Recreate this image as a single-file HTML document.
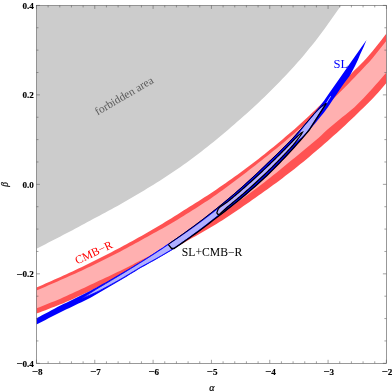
<!DOCTYPE html>
<html><head><meta charset="utf-8"><title>plot</title>
<style>
html,body{margin:0;padding:0;background:#fff;}
svg{display:block;will-change:transform;}
text{font-family:"Liberation Serif",serif;}
.tl{font-size:9.1px;font-weight:bold;fill:#000;stroke:#000;stroke-width:0.14px;}
</style></head><body>
<svg width="392" height="392" viewBox="0 0 392 392">
<rect width="392" height="392" fill="#fff"/>
<defs><clipPath id="c"><rect x="36.45" y="5.4" width="349.95" height="357.90000000000003"/></clipPath></defs>
<g clip-path="url(#c)">
<path d="M36.45,5.40 L36.45,248.72 L39.45,247.19 L42.45,245.67 L45.45,244.13 L48.45,242.60 L51.45,241.06 L54.45,239.52 L57.45,237.97 L60.45,236.41 L63.45,234.85 L66.45,233.28 L69.45,231.71 L72.45,230.13 L75.45,228.53 L78.45,226.94 L81.45,225.33 L84.45,223.71 L87.45,222.08 L90.45,220.44 L93.45,218.83 L96.45,217.26 L99.45,215.67 L102.45,214.07 L105.45,212.46 L108.45,210.84 L111.45,209.20 L114.45,207.55 L117.45,205.88 L120.45,204.20 L123.45,202.50 L126.45,200.79 L129.45,199.06 L132.45,197.31 L135.45,195.55 L138.45,193.77 L141.45,191.98 L144.45,190.18 L147.45,188.37 L150.45,186.53 L153.45,184.67 L156.45,182.80 L159.45,180.90 L162.45,178.98 L165.45,177.04 L168.45,175.08 L171.45,173.10 L174.45,171.09 L177.45,169.06 L180.45,166.99 L183.45,164.85 L186.45,162.68 L189.45,160.49 L192.45,158.27 L195.45,156.02 L198.45,153.75 L201.45,151.44 L204.45,149.12 L207.45,146.76 L210.45,144.37 L213.45,141.96 L216.45,139.51 L219.45,137.04 L222.45,134.54 L225.45,132.00 L228.45,129.43 L231.45,126.83 L234.45,124.20 L237.45,121.59 L240.45,118.99 L243.45,116.35 L246.45,113.69 L249.45,110.99 L252.45,108.25 L255.45,105.48 L258.45,102.67 L261.45,99.83 L264.45,96.94 L267.45,94.03 L270.45,91.07 L273.45,88.06 L276.45,85.01 L279.45,81.93 L282.45,78.80 L285.45,75.63 L288.45,72.43 L291.45,69.18 L294.45,65.89 L297.45,62.56 L300.45,59.19 L303.45,55.68 L306.45,52.05 L309.45,48.37 L312.45,44.65 L315.45,40.88 L318.45,37.07 L321.45,33.11 L324.45,28.99 L327.45,24.82 L330.45,20.61 L333.45,16.35 L336.45,12.04 L339.45,7.69 L341.00,5.42 L341.00,5.40 Z" fill="#cccccc"/>
<path d="M36.45,287.47 L39.45,286.18 L42.45,284.88 L45.45,283.58 L48.45,282.26 L51.45,280.94 L54.45,279.61 L57.45,278.26 L60.45,276.91 L63.45,275.54 L66.45,274.17 L69.45,272.78 L72.45,271.39 L75.45,269.98 L78.45,268.56 L81.45,267.13 L84.45,265.69 L87.45,264.24 L90.45,262.77 L93.45,261.29 L96.45,259.80 L99.45,258.30 L102.45,256.79 L105.45,255.26 L108.45,253.72 L111.45,252.17 L114.45,250.61 L117.45,249.03 L120.45,247.44 L123.45,245.83 L126.45,244.21 L129.45,242.58 L132.45,240.93 L135.45,239.27 L138.45,237.59 L141.45,235.90 L144.45,234.19 L147.45,232.47 L150.45,230.74 L153.45,228.99 L156.45,227.22 L159.45,225.44 L162.45,223.64 L165.45,221.82 L168.45,219.99 L171.45,218.15 L174.45,216.28 L177.45,214.40 L180.45,212.51 L183.45,210.59 L186.45,208.66 L189.45,206.77 L192.45,204.92 L195.45,203.05 L198.45,201.16 L201.45,199.25 L204.45,197.33 L207.45,195.38 L210.45,193.42 L213.45,191.43 L216.45,189.40 L219.45,187.36 L222.45,185.30 L225.45,183.22 L228.45,181.12 L231.45,178.99 L234.45,176.85 L237.45,174.69 L240.45,172.51 L243.45,170.31 L246.45,168.09 L249.45,165.85 L252.45,163.56 L255.45,161.24 L258.45,158.90 L261.45,156.54 L264.45,154.16 L267.45,151.75 L270.45,149.33 L273.45,146.88 L276.45,144.41 L279.45,141.92 L282.45,139.41 L285.45,136.87 L288.45,134.31 L291.45,131.73 L294.45,129.13 L297.45,126.44 L300.45,123.71 L303.45,120.96 L306.45,118.19 L309.45,115.39 L312.45,112.57 L315.45,109.73 L318.45,106.86 L321.45,103.96 L324.45,101.04 L327.45,98.10 L330.45,95.13 L333.45,92.13 L336.45,89.11 L339.45,86.07 L342.45,82.96 L345.45,79.82 L348.45,76.65 L351.45,73.46 L354.45,70.29 L357.45,67.38 L360.45,64.44 L363.45,61.47 L366.45,58.24 L369.45,54.70 L372.45,51.15 L375.45,47.53 L378.45,43.74 L381.45,39.92 L384.45,36.07 L386.40,33.56 L386.40,83.02 L384.45,85.33 L381.45,88.85 L378.45,92.34 L375.45,95.62 L372.45,98.68 L369.45,101.71 L366.45,104.71 L363.45,107.68 L360.45,110.62 L357.45,113.53 L354.45,116.42 L351.45,119.27 L348.45,122.10 L345.45,124.90 L342.45,127.67 L339.45,130.41 L336.45,133.14 L333.45,135.84 L330.45,138.52 L327.45,141.16 L324.45,143.78 L321.45,146.38 L318.45,148.97 L315.45,151.56 L312.45,154.12 L309.45,156.65 L306.45,159.16 L303.45,161.65 L300.45,164.11 L297.45,166.51 L294.45,168.89 L291.45,171.24 L288.45,173.56 L285.45,175.87 L282.45,178.14 L279.45,180.40 L276.45,182.63 L273.45,184.84 L270.45,187.03 L267.45,189.20 L264.45,191.34 L261.45,193.46 L258.45,195.56 L255.45,197.64 L252.45,199.75 L249.45,201.88 L246.45,203.99 L243.45,206.08 L240.45,208.15 L237.45,210.20 L234.45,212.23 L231.45,214.24 L228.45,216.23 L225.45,218.20 L222.45,220.15 L219.45,222.07 L216.45,223.89 L213.45,225.69 L210.45,227.48 L207.45,229.25 L204.45,231.00 L201.45,232.73 L198.45,234.45 L195.45,236.15 L192.45,237.83 L189.45,239.59 L186.45,241.35 L183.45,243.09 L180.45,244.82 L177.45,246.53 L174.45,248.23 L171.45,249.92 L168.45,251.59 L165.45,253.24 L162.45,254.88 L159.45,256.51 L156.45,258.12 L153.45,259.72 L150.45,261.31 L147.45,262.88 L144.45,264.44 L141.45,265.99 L138.45,267.53 L135.45,269.05 L132.45,270.56 L129.45,272.06 L126.45,273.55 L123.45,275.01 L120.45,276.47 L117.45,277.91 L114.45,279.35 L111.45,280.77 L108.45,282.19 L105.45,283.59 L102.45,284.99 L99.45,286.39 L96.45,287.84 L93.45,289.27 L90.45,290.71 L87.45,292.13 L84.45,293.54 L81.45,294.95 L78.45,296.35 L75.45,297.74 L72.45,299.13 L69.45,300.50 L66.45,301.87 L63.45,303.20 L60.45,304.37 L57.45,305.54 L54.45,306.69 L51.45,307.84 L48.45,308.99 L45.45,310.13 L42.45,311.27 L39.45,312.40 L36.45,313.53 Z" fill="#ff5252"/>
<path d="M36.45,290.50 L39.45,289.23 L42.45,287.95 L45.45,286.66 L48.45,285.37 L51.45,284.06 L54.45,282.74 L57.45,281.41 L60.45,280.08 L63.45,278.76 L66.45,277.43 L69.45,276.09 L72.45,274.74 L75.45,273.38 L78.45,272.01 L81.45,270.63 L84.45,269.24 L87.45,267.83 L90.45,266.41 L93.45,264.99 L96.45,263.55 L99.45,262.10 L102.45,260.61 L105.45,259.10 L108.45,257.58 L111.45,256.05 L114.45,254.51 L117.45,252.95 L120.45,251.38 L123.45,249.80 L126.45,248.21 L129.45,246.60 L132.45,244.98 L135.45,243.34 L138.45,241.69 L141.45,240.03 L144.45,238.36 L147.45,236.67 L150.45,234.98 L153.45,233.36 L156.45,231.72 L159.45,230.07 L162.45,228.41 L165.45,226.73 L168.45,225.03 L171.45,223.25 L174.45,221.45 L177.45,219.64 L180.45,217.81 L183.45,215.97 L186.45,214.11 L189.45,212.23 L192.45,210.34 L195.45,208.44 L198.45,206.51 L201.45,204.57 L204.45,202.61 L207.45,200.64 L210.45,198.65 L213.45,196.59 L216.45,194.46 L219.45,192.31 L222.45,190.14 L225.45,187.96 L228.45,185.75 L231.45,183.53 L234.45,181.29 L237.45,179.04 L240.45,176.76 L243.45,174.47 L246.45,172.16 L249.45,169.83 L252.45,167.52 L255.45,165.19 L258.45,162.85 L261.45,160.49 L264.45,158.12 L267.45,155.72 L270.45,153.30 L273.45,150.86 L276.45,148.40 L279.45,145.92 L282.45,143.42 L285.45,140.90 L288.45,138.36 L291.45,135.80 L294.45,133.22 L297.45,130.62 L300.45,128.05 L303.45,125.47 L306.45,122.87 L309.45,120.25 L312.45,117.61 L315.45,114.94 L318.45,112.26 L321.45,109.55 L324.45,106.82 L327.45,104.07 L330.45,101.29 L333.45,98.49 L336.45,95.67 L339.45,92.83 L342.45,89.83 L345.45,86.78 L348.45,83.71 L351.45,80.61 L354.45,77.50 L357.45,74.35 L360.45,71.19 L363.45,68.02 L366.45,64.86 L369.45,61.68 L372.45,58.24 L375.45,54.53 L378.45,50.80 L381.45,47.05 L384.45,43.26 L386.40,40.79 L386.40,72.55 L384.45,74.80 L381.45,78.25 L378.45,81.67 L375.45,85.07 L372.45,88.44 L369.45,91.79 L366.45,95.02 L363.45,98.13 L360.45,101.21 L357.45,104.28 L354.45,107.31 L351.45,109.86 L348.45,112.29 L345.45,114.70 L342.45,117.09 L339.45,119.49 L336.45,122.03 L333.45,124.54 L330.45,127.03 L327.45,129.50 L324.45,132.21 L321.45,135.15 L318.45,137.90 L315.45,140.47 L312.45,143.02 L309.45,145.55 L306.45,148.06 L303.45,150.55 L300.45,153.01 L297.45,155.46 L294.45,157.88 L291.45,160.31 L288.45,162.82 L285.45,165.30 L282.45,167.77 L279.45,170.22 L276.45,172.64 L273.45,175.05 L270.45,177.43 L267.45,179.80 L264.45,182.15 L261.45,184.48 L258.45,186.79 L255.45,189.08 L252.45,191.33 L249.45,193.54 L246.45,195.73 L243.45,197.91 L240.45,200.07 L237.45,202.21 L234.45,204.33 L231.45,206.43 L228.45,208.48 L225.45,210.49 L222.45,212.47 L219.45,214.44 L216.45,216.40 L213.45,218.33 L210.45,220.25 L207.45,222.15 L204.45,224.04 L201.45,225.91 L198.45,227.76 L195.45,229.60 L192.45,231.42 L189.45,233.22 L186.45,235.01 L183.45,236.78 L180.45,238.54 L177.45,240.28 L174.45,242.01 L171.45,243.72 L168.45,245.42 L165.45,247.10 L162.45,248.76 L159.45,250.42 L156.45,252.05 L153.45,253.68 L150.45,255.29 L147.45,256.88 L144.45,258.46 L141.45,260.03 L138.45,261.58 L135.45,263.12 L132.45,264.65 L129.45,266.16 L126.45,267.67 L123.45,269.15 L120.45,270.63 L117.45,272.09 L114.45,273.54 L111.45,274.98 L108.45,276.40 L105.45,277.82 L102.45,279.22 L99.45,280.61 L96.45,281.99 L93.45,283.40 L90.45,284.84 L87.45,286.27 L84.45,287.68 L81.45,289.09 L78.45,290.49 L75.45,291.87 L72.45,293.25 L69.45,294.61 L66.45,295.97 L63.45,297.31 L60.45,298.65 L57.45,299.90 L54.45,301.13 L51.45,302.35 L48.45,303.56 L45.45,304.76 L42.45,305.95 L39.45,307.13 L36.45,308.30 Z" fill="#ffb0b0"/>
<path d="M36.45,318.22 L39.45,316.65 L42.45,315.07 L45.45,313.48 L48.45,311.90 L51.45,310.31 L54.45,308.71 L57.45,307.12 L60.45,305.54 L63.45,304.10 L66.45,302.65 L69.45,301.20 L72.45,299.74 L75.45,298.27 L78.45,296.79 L81.45,295.31 L84.45,293.82 L87.45,292.32 L90.45,290.71 L93.45,289.07 L96.45,287.42 L99.45,285.76 L102.45,284.09 L105.45,282.40 L108.45,280.71 L111.45,279.00 L114.45,277.28 L117.45,275.55 L120.45,273.80 L123.45,272.04 L126.45,270.26 L129.45,268.47 L132.45,266.67 L135.45,264.84 L138.45,263.01 L141.45,261.15 L144.45,259.27 L147.45,257.38 L150.45,255.47 L153.45,253.54 L156.45,251.59 L159.45,249.62 L162.45,247.63 L165.45,245.62 L168.45,243.59 L171.45,241.54 L174.45,239.48 L177.45,237.40 L180.45,235.30 L183.45,233.18 L186.45,231.03 L189.45,228.86 L192.45,226.66 L195.45,224.44 L198.45,222.20 L201.45,219.93 L204.45,217.63 L207.45,215.31 L210.45,212.96 L213.45,210.58 L216.45,208.18 L219.45,205.75 L222.45,203.30 L225.45,200.81 L228.45,198.30 L231.45,195.76 L234.45,193.18 L237.45,190.58 L240.45,187.94 L243.45,185.28 L246.45,182.58 L249.45,179.85 L252.45,177.08 L255.45,174.28 L258.45,171.45 L261.45,168.59 L264.45,165.69 L267.45,162.76 L270.45,159.92 L273.45,157.07 L276.45,154.18 L279.45,151.26 L282.45,148.31 L285.45,145.31 L288.45,142.28 L291.45,139.21 L294.45,135.93 L297.45,132.58 L300.45,129.19 L303.45,125.76 L306.45,122.29 L309.45,118.78 L312.45,115.23 L315.45,111.63 L318.00,108.44 L324.00,100.70 L330.00,92.10 L339.50,78.50 L348.20,66.10 L356.80,53.80 L366.50,39.90 L366.50,39.90 L363.60,47.00 L360.10,54.40 L358.20,59.30 L355.00,66.00 L350.10,75.20 L344.10,83.20 L340.30,88.80 L336.80,94.00 L332.50,100.30 L328.20,106.70 L324.00,112.50 L318.00,119.80 L315.45,122.89 L312.45,126.54 L309.45,130.14 L306.45,133.69 L303.45,137.20 L300.45,140.65 L297.45,144.07 L294.45,147.43 L291.45,150.75 L288.45,153.99 L285.45,157.18 L282.45,160.33 L279.45,163.44 L276.45,166.51 L273.45,169.54 L270.45,172.52 L267.45,175.44 L264.45,178.24 L261.45,181.00 L258.45,183.72 L255.45,186.40 L252.45,189.04 L249.45,191.64 L246.45,194.21 L243.45,196.75 L240.45,199.24 L237.45,201.70 L234.45,204.13 L231.45,206.53 L228.45,208.89 L225.45,211.21 L222.45,213.51 L219.45,215.77 L216.45,218.00 L213.45,220.35 L210.45,222.68 L207.45,224.99 L204.45,227.27 L201.45,229.52 L198.45,231.74 L195.45,233.94 L192.45,236.11 L189.45,238.25 L186.45,240.36 L183.45,242.46 L180.45,244.52 L177.45,246.57 L174.45,248.59 L171.45,250.55 L168.45,252.34 L165.45,254.10 L162.45,255.85 L159.45,257.57 L156.45,259.27 L153.45,260.96 L150.45,262.62 L147.45,264.27 L144.45,265.90 L141.45,267.51 L138.45,269.26 L135.45,271.13 L132.45,272.98 L129.45,274.82 L126.45,276.65 L123.45,278.46 L120.45,280.25 L117.45,282.04 L114.45,283.81 L111.45,285.57 L108.45,287.33 L105.45,289.07 L102.45,290.80 L99.45,292.52 L96.45,294.23 L93.45,295.93 L90.45,297.63 L87.45,299.28 L84.45,300.73 L81.45,302.18 L78.45,303.62 L75.45,305.06 L72.45,306.49 L69.45,307.93 L66.45,309.35 L63.45,310.78 L60.45,312.20 L57.45,313.72 L54.45,315.26 L51.45,316.80 L48.45,318.34 L45.45,319.88 L42.45,321.42 L39.45,322.96 L36.45,324.51 Z" fill="#0000ff"/>
<path d="M80.50,298.96 L83.61,297.18 L86.72,295.30 L89.83,293.34 L92.95,291.33 L96.06,289.37 L99.17,287.46 L102.28,285.63 L105.39,283.80 L108.50,281.97 L111.61,280.12 L114.73,278.25 L117.84,276.38 L120.95,274.50 L124.06,272.64 L127.17,270.76 L130.28,268.87 L133.39,266.96 L136.51,265.03 L139.62,263.09 L142.73,261.15 L145.84,259.20 L148.95,257.22 L152.06,255.23 L155.17,253.22 L158.28,251.18 L161.40,249.13 L164.51,247.05 L167.62,244.96 L170.73,242.83 L173.84,240.73 L176.95,238.63 L180.06,236.50 L183.18,234.35 L186.29,232.17 L189.40,229.97 L192.51,227.74 L195.62,225.49 L198.73,223.21 L201.84,220.90 L204.96,218.57 L208.07,216.20 L211.18,213.81 L214.29,211.39 L217.40,209.09 L220.51,206.95 L223.62,204.78 L226.74,202.58 L229.85,200.16 L232.96,197.56 L236.07,194.94 L239.18,192.28 L242.29,189.59 L245.40,186.87 L248.52,184.11 L251.63,181.32 L254.74,178.49 L257.85,175.62 L260.96,172.72 L264.07,169.78 L267.18,166.80 L270.29,163.83 L273.41,160.84 L276.52,157.81 L279.63,154.74 L282.74,151.63 L285.85,148.48 L288.96,145.29 L292.07,142.05 L295.19,138.22 L298.30,133.85 L301.41,129.58 L304.52,125.53 L307.63,121.91 L310.74,118.25 L313.85,114.55 L316.97,111.21 L320.08,108.20 L323.19,105.70 L326.30,103.40 L326.30,103.40 L323.19,107.73 L320.08,112.57 L316.97,117.40 L313.85,122.23 L310.74,127.07 L307.63,131.39 L304.52,135.04 L301.41,137.97 L298.30,140.56 L295.19,143.01 L292.07,146.08 L288.96,149.44 L285.85,152.76 L282.74,156.03 L279.63,159.26 L276.52,162.44 L273.41,165.58 L270.29,168.67 L267.18,171.71 L264.07,174.69 L260.96,177.62 L257.85,180.51 L254.74,183.36 L251.63,186.17 L248.52,188.94 L245.40,191.67 L242.29,194.36 L239.18,197.01 L236.07,199.62 L232.96,202.20 L229.85,204.74 L226.74,207.41 L223.62,210.27 L220.51,213.10 L217.40,215.89 L214.29,218.50 L211.18,220.96 L208.07,223.39 L204.96,225.79 L201.84,228.15 L198.73,230.49 L195.62,232.80 L192.51,235.08 L189.40,237.33 L186.29,239.55 L183.18,241.74 L180.06,243.91 L176.95,246.06 L173.84,248.18 L170.73,250.18 L167.62,252.03 L164.51,253.85 L161.40,255.66 L158.28,257.43 L155.17,259.19 L152.06,260.93 L148.95,262.65 L145.84,264.35 L142.73,266.03 L139.62,267.72 L136.51,269.64 L133.39,271.53 L130.28,273.41 L127.17,275.28 L124.06,277.13 L120.95,278.97 L117.84,280.73 L114.73,282.47 L111.61,284.18 L108.50,285.89 L105.39,287.59 L102.28,289.27 L99.17,290.90 L96.06,292.39 L92.95,293.80 L89.83,295.14 L86.72,296.43 L83.61,297.66 L80.50,298.96 Z" fill="#b0b0ff" stroke="#0000ff" stroke-width="0.8"/><path d="M326.3,103.4 L330.7,96.2" stroke="#b0b0ff" stroke-width="1" fill="none"/><path d="M216.80,212.96 L217.88,209.77 L218.97,208.05 L220.05,207.07 L221.14,206.32 L222.22,205.56 L223.31,204.80 L224.39,204.04 L225.48,203.27 L226.56,202.50 L227.65,201.73 L228.73,200.88 L229.82,199.98 L230.90,199.08 L231.99,198.18 L233.07,197.27 L234.16,196.36 L235.24,195.44 L236.33,194.52 L237.41,193.60 L238.50,192.67 L239.58,191.74 L240.67,190.80 L241.75,189.87 L242.84,188.92 L243.92,187.97 L245.01,187.02 L246.09,186.06 L247.17,185.10 L248.26,184.14 L249.34,183.17 L250.43,182.20 L251.51,181.22 L252.60,180.24 L253.68,179.25 L254.77,178.26 L255.85,177.26 L256.94,176.26 L258.02,175.26 L259.11,174.25 L260.19,173.24 L261.28,172.22 L262.36,171.20 L263.45,170.17 L264.53,169.14 L265.62,168.11 L266.70,167.07 L267.79,166.02 L268.87,164.99 L269.96,163.96 L271.04,162.92 L272.13,161.88 L273.21,160.83 L274.29,159.78 L275.38,158.72 L276.46,157.66 L277.55,156.60 L278.63,155.53 L279.72,154.45 L280.80,153.37 L281.89,152.29 L282.97,151.20 L284.06,150.10 L285.14,149.00 L286.23,147.90 L287.31,146.79 L288.40,145.68 L289.48,144.56 L290.57,143.43 L291.65,142.30 L292.74,141.13 L293.82,140.03 L294.91,138.93 L295.99,137.84 L297.08,136.76 L298.16,135.69 L299.25,134.64 L300.33,133.63 L301.42,132.68 L302.50,132.18 L302.50,132.18 L301.42,134.20 L300.33,135.76 L299.25,137.25 L298.16,138.69 L297.08,140.09 L295.99,141.47 L294.91,142.84 L293.82,144.18 L292.74,145.51 L291.65,146.73 L290.57,147.91 L289.48,149.08 L288.40,150.24 L287.31,151.40 L286.23,152.56 L285.14,153.71 L284.06,154.85 L282.97,155.99 L281.89,157.12 L280.80,158.25 L279.72,159.37 L278.63,160.48 L277.55,161.59 L276.46,162.70 L275.38,163.79 L274.29,164.89 L273.21,165.98 L272.13,167.06 L271.04,168.14 L269.96,169.21 L268.87,170.27 L267.79,171.33 L266.70,172.38 L265.62,173.42 L264.53,174.45 L263.45,175.48 L262.36,176.51 L261.28,177.52 L260.19,178.54 L259.11,179.55 L258.02,180.55 L256.94,181.55 L255.85,182.54 L254.77,183.53 L253.68,184.52 L252.60,185.49 L251.51,186.47 L250.43,187.44 L249.34,188.40 L248.26,189.36 L247.17,190.32 L246.09,191.27 L245.01,192.21 L243.92,193.15 L242.84,194.09 L241.75,195.02 L240.67,195.95 L239.58,196.87 L238.50,197.79 L237.41,198.70 L236.33,199.61 L235.24,200.51 L234.16,201.41 L233.07,202.31 L231.99,203.20 L230.90,204.09 L229.82,204.97 L228.73,205.85 L227.65,206.76 L226.56,207.77 L225.48,208.77 L224.39,209.77 L223.31,210.76 L222.22,211.75 L221.14,212.73 L220.05,213.71 L218.97,214.45 L217.88,214.45 L216.80,212.96 Z" fill="#b8b0ff" stroke="#000" stroke-width="1.2"/><path d="M168.40,244.60 L170.00,243.03 L173.00,240.98 L176.00,238.91 L179.00,236.82 L182.00,234.70 L185.00,232.57 L188.00,230.41 L191.00,228.22 L194.00,226.02 L197.00,223.78 L200.00,221.53 L203.00,219.24 L206.00,216.93 L209.00,214.60 L212.00,212.24 L215.00,209.85 L218.00,207.43 L221.00,204.99 L224.00,202.52 L227.00,200.02 L230.00,197.49 L233.00,194.93 L236.00,192.34 L239.00,189.72 L242.00,187.07 L245.00,184.39 L248.00,181.67 L251.00,178.92 L254.00,176.14 L257.00,173.33 L260.00,170.48 L263.00,167.60 L266.00,164.68 L269.00,161.78 L272.00,158.95 L275.00,156.08 L278.00,153.18 L281.00,150.24 L284.00,147.26 L287.00,144.25 L290.00,141.19 L293.00,138.04 L296.00,134.71 L299.00,131.34 L302.00,127.93 L305.00,124.47 L308.00,120.98 L311.00,117.45 L314.00,113.88 L318.00,109.60 L321.60,106.30 L324.50,104.30 L326.30,103.40" fill="none" stroke="#000" stroke-width="0.9" stroke-linejoin="miter" stroke-miterlimit="10"/><path d="M168.40,244.60 L171.60,248.50 L174.00,248.49 L177.00,246.47 L180.00,244.43 L183.00,242.37 L186.00,240.28 L189.00,238.17 L192.00,236.03 L195.00,233.86 L198.00,231.67 L201.00,229.45 L204.00,227.21 L207.00,224.93 L210.00,222.63 L213.00,220.30 L216.00,217.94 L219.00,215.71 L222.00,213.45 L225.00,211.16 L228.00,208.84 L231.00,206.48 L234.00,204.09 L237.00,201.67 L240.00,199.21 L243.00,196.72 L246.00,194.20 L249.00,191.63 L252.00,189.03 L255.00,186.40 L258.00,183.72 L261.00,181.01 L264.00,178.26 L267.00,175.47 L270.00,172.56 L273.00,169.59 L276.00,166.57 L279.00,163.51 L282.00,160.40 L285.00,157.26 L288.00,154.07 L291.00,150.84 L294.00,147.53 L297.00,144.17 L300.00,140.77 L303.00,137.32 L306.00,133.82 L309.00,130.27 L326.30,103.40" fill="none" stroke="#000" stroke-width="1.3" stroke-linejoin="miter" stroke-miterlimit="10"/>
</g>
<rect x="36.45" y="5.4" width="349.95" height="357.90000000000003" fill="none" stroke="#555" stroke-width="0.6"/>
<path d="M36.45,363.30 v-3.50 M36.45,5.40 v3.50 M48.12,363.30 v-2.00 M48.12,5.40 v2.00 M59.78,363.30 v-2.00 M59.78,5.40 v2.00 M71.44,363.30 v-2.00 M71.44,5.40 v2.00 M83.11,363.30 v-2.00 M83.11,5.40 v2.00 M94.78,363.30 v-3.50 M94.78,5.40 v3.50 M106.44,363.30 v-2.00 M106.44,5.40 v2.00 M118.11,363.30 v-2.00 M118.11,5.40 v2.00 M129.77,363.30 v-2.00 M129.77,5.40 v2.00 M141.44,363.30 v-2.00 M141.44,5.40 v2.00 M153.10,363.30 v-3.50 M153.10,5.40 v3.50 M164.76,363.30 v-2.00 M164.76,5.40 v2.00 M176.43,363.30 v-2.00 M176.43,5.40 v2.00 M188.09,363.30 v-2.00 M188.09,5.40 v2.00 M199.76,363.30 v-2.00 M199.76,5.40 v2.00 M211.43,363.30 v-3.50 M211.43,5.40 v3.50 M223.09,363.30 v-2.00 M223.09,5.40 v2.00 M234.76,363.30 v-2.00 M234.76,5.40 v2.00 M246.42,363.30 v-2.00 M246.42,5.40 v2.00 M258.09,363.30 v-2.00 M258.09,5.40 v2.00 M269.75,363.30 v-3.50 M269.75,5.40 v3.50 M281.42,363.30 v-2.00 M281.42,5.40 v2.00 M293.08,363.30 v-2.00 M293.08,5.40 v2.00 M304.75,363.30 v-2.00 M304.75,5.40 v2.00 M316.41,363.30 v-2.00 M316.41,5.40 v2.00 M328.07,363.30 v-3.50 M328.07,5.40 v3.50 M339.74,363.30 v-2.00 M339.74,5.40 v2.00 M351.40,363.30 v-2.00 M351.40,5.40 v2.00 M363.07,363.30 v-2.00 M363.07,5.40 v2.00 M374.74,363.30 v-2.00 M374.74,5.40 v2.00 M386.40,363.30 v-3.50 M386.40,5.40 v3.50 M36.45,363.30 h3.50 M386.40,363.30 h-3.50 M36.45,340.93 h2.00 M386.40,340.93 h-2.00 M36.45,318.56 h2.00 M386.40,318.56 h-2.00 M36.45,296.19 h2.00 M386.40,296.19 h-2.00 M36.45,273.83 h3.50 M386.40,273.83 h-3.50 M36.45,251.46 h2.00 M386.40,251.46 h-2.00 M36.45,229.09 h2.00 M386.40,229.09 h-2.00 M36.45,206.72 h2.00 M386.40,206.72 h-2.00 M36.45,184.35 h3.50 M386.40,184.35 h-3.50 M36.45,161.98 h2.00 M386.40,161.98 h-2.00 M36.45,139.61 h2.00 M386.40,139.61 h-2.00 M36.45,117.24 h2.00 M386.40,117.24 h-2.00 M36.45,94.87 h3.50 M386.40,94.87 h-3.50 M36.45,72.51 h2.00 M386.40,72.51 h-2.00 M36.45,50.14 h2.00 M386.40,50.14 h-2.00 M36.45,27.77 h2.00 M386.40,27.77 h-2.00 M36.45,5.40 h3.50 M386.40,5.40 h-3.50" stroke="#555" stroke-width="0.55" fill="none"/>
<text x="37.05" y="375.00" text-anchor="middle" class="tl"><tspan font-size="11" dy="0.4">−</tspan><tspan dy="-0.4">8</tspan></text><text x="95.38" y="375.00" text-anchor="middle" class="tl"><tspan font-size="11" dy="0.4">−</tspan><tspan dy="-0.4">7</tspan></text><text x="153.70" y="375.00" text-anchor="middle" class="tl"><tspan font-size="11" dy="0.4">−</tspan><tspan dy="-0.4">6</tspan></text><text x="212.03" y="375.00" text-anchor="middle" class="tl"><tspan font-size="11" dy="0.4">−</tspan><tspan dy="-0.4">5</tspan></text><text x="270.35" y="375.00" text-anchor="middle" class="tl"><tspan font-size="11" dy="0.4">−</tspan><tspan dy="-0.4">4</tspan></text><text x="328.68" y="375.00" text-anchor="middle" class="tl"><tspan font-size="11" dy="0.4">−</tspan><tspan dy="-0.4">3</tspan></text><text x="387.00" y="375.00" text-anchor="middle" class="tl"><tspan font-size="11" dy="0.4">−</tspan><tspan dy="-0.4">2</tspan></text><text x="33.80" y="9.00" text-anchor="end" class="tl">0.4</text><text x="33.80" y="98.48" text-anchor="end" class="tl">0.2</text><text x="33.80" y="187.95" text-anchor="end" class="tl">0.0</text><text x="33.80" y="277.43" text-anchor="end" class="tl"><tspan font-size="11" dy="0.4">−</tspan><tspan dy="-0.4">0.2</tspan></text><text x="33.80" y="366.90" text-anchor="end" class="tl"><tspan font-size="11" dy="0.4">−</tspan><tspan dy="-0.4">0.4</tspan></text>

<text transform="translate(97.6,115.4) rotate(-30.2)" font-size="11.3" fill="#5c5c5c">forbidden area</text>
<text transform="translate(77.2,264.5) rotate(-25.2)" font-size="11.6" fill="#ff0000">CMB−R</text>
<text x="333.6" y="67.7" font-size="12.6" fill="#0000ff">SL</text>
<text x="181.8" y="255.7" font-size="11.7" fill="#000">SL+CMB−R</text>
<text x="211.8" y="391.3" font-size="10" font-style="italic" text-anchor="middle" fill="#000" stroke="#000" stroke-width="0.2">α</text>
<text transform="translate(8.4,184.3) rotate(-90)" font-size="9.5" font-style="italic" text-anchor="middle" fill="#000" stroke="#000" stroke-width="0.2">β</text>

</svg>
</body></html>
